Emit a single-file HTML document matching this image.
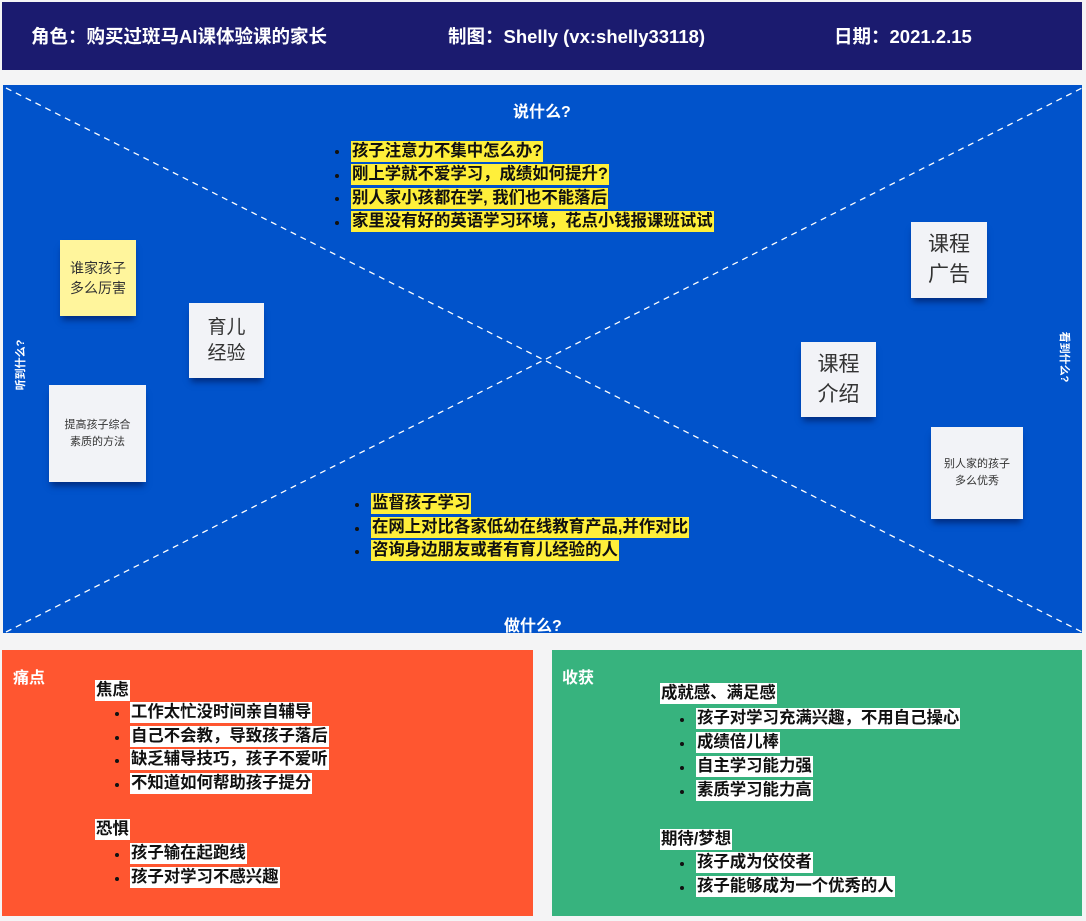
<!DOCTYPE html>
<html><head><meta charset="utf-8"><style>
body{margin:0;width:1086px;height:921px;background:#f4f4f5;position:relative;overflow:hidden;font-family:"Liberation Sans","Noto Sans CJK SC",sans-serif}
.a{position:absolute}
.hd{left:2px;top:2px;width:1080px;height:68px;background:#1b1b6f}
.hd span{position:absolute;top:21px;color:#fff;font-weight:bold;font-size:18.5px;white-space:nowrap}
.blue{left:3px;top:85px;width:1079px;height:548px;background:#0153cb}
.hl{position:absolute;font-size:16.4px;font-weight:bold;color:#111;background:#ffef3a;line-height:21px;padding:0 1px;white-space:nowrap}
.w{background:#fff}
.dot{position:absolute;width:4px;height:4px;border-radius:2px;background:#111}
.n{position:absolute;background:#f2f3f7;box-shadow:0 6px 6px -2px rgba(0,20,80,.6);display:flex;align-items:center;justify-content:center;text-align:center;color:#333}
.lbl{position:absolute;color:#fff;font-weight:bold;font-size:16px;white-space:nowrap}
</style></head><body>
<div class="a hd"><span style="left:29px">角色：购买过斑马AI课体验课的家长</span><span style="left:446px">制图：Shelly (vx:shelly33118)</span><span style="left:832px">日期：2021.2.15</span></div>
<div class="a blue"></div>
<svg class="a" style="left:0;top:0" width="1086" height="921"><line x1="6" y1="88" x2="1082" y2="632" stroke="#fff" stroke-width="1.3" stroke-dasharray="6,5"/><line x1="6" y1="632" x2="1082" y2="88" stroke="#fff" stroke-width="1.3" stroke-dasharray="6,5"/></svg>
<div class="lbl" style="left:513px;top:98px">说什么?</div>
<div class="lbl" style="left:504px;top:612px">做什么?</div>
<div class="lbl" style="left:-10px;top:357px;font-size:11px;transform:rotate(-90deg);width:60px;text-align:center">听到什么?</div>
<div class="lbl" style="left:1035px;top:349px;font-size:11px;transform:rotate(90deg);width:60px;text-align:center">看到什么?</div>
<div class="dot" style="left:335px;top:150px"></div><div class="hl" style="left:351px;top:141px">孩子注意力不集中怎么办?</div>
<div class="dot" style="left:335px;top:174px"></div><div class="hl" style="left:351px;top:164px">刚上学就不爱学习，成绩如何提升?</div>
<div class="dot" style="left:335px;top:197px"></div><div class="hl" style="left:351px;top:188px">别人家小孩都在学, 我们也不能落后</div>
<div class="dot" style="left:335px;top:221px"></div><div class="hl" style="left:351px;top:211px">家里没有好的英语学习环境，花点小钱报课班试试</div>
<div class="dot" style="left:355px;top:503px"></div><div class="hl" style="left:371px;top:493px">监督孩子学习</div>
<div class="dot" style="left:355px;top:527px"></div><div class="hl" style="left:371px;top:517px">在网上对比各家低幼在线教育产品,并作对比</div>
<div class="dot" style="left:355px;top:550px"></div><div class="hl" style="left:371px;top:540px">咨询身边朋友或者有育儿经验的人</div>
<div class="n" style="left:60px;top:240px;width:76px;height:76px;background:#fff59c;font-size:14px">谁家孩子<br>多么厉害</div>
<div class="n" style="left:189px;top:303px;width:75px;height:75px;font-size:19px;line-height:26px">育儿<br>经验</div>
<div class="n" style="left:49px;top:385px;width:97px;height:97px;font-size:11px;line-height:17px">提高孩子综合<br>素质的方法</div>
<div class="n" style="left:911px;top:222px;width:76px;height:76px;font-size:21px;line-height:30px">课程<br>广告</div>
<div class="n" style="left:801px;top:342px;width:75px;height:75px;font-size:21px;line-height:30px">课程<br>介绍</div>
<div class="n" style="left:931px;top:427px;width:92px;height:92px;font-size:11px;line-height:17px">别人家的孩子<br>多么优秀</div>
<div class="a" style="left:2px;top:650px;width:531px;height:266px;background:#ff5630"></div>
<div class="lbl" style="left:13px;top:664px">痛点</div>
<div class="hl w" style="left:95px;top:680px">焦虑</div>
<div class="dot" style="left:115px;top:712px"></div><div class="hl w" style="left:130px;top:702px">工作太忙没时间亲自辅导</div>
<div class="dot" style="left:115px;top:736px"></div><div class="hl w" style="left:130px;top:726px">自己不会教，导致孩子落后</div>
<div class="dot" style="left:115px;top:759px"></div><div class="hl w" style="left:130px;top:749px">缺乏辅导技巧，孩子不爱听</div>
<div class="dot" style="left:115px;top:783px"></div><div class="hl w" style="left:130px;top:773px">不知道如何帮助孩子提分</div>
<div class="hl w" style="left:95px;top:819px">恐惧</div>
<div class="dot" style="left:115px;top:853px"></div><div class="hl w" style="left:130px;top:843px">孩子输在起跑线</div>
<div class="dot" style="left:115px;top:877px"></div><div class="hl w" style="left:130px;top:867px">孩子对学习不感兴趣</div>
<div class="a" style="left:552px;top:650px;width:530px;height:266px;background:#37b37e"></div>
<div class="lbl" style="left:562px;top:664px">收获</div>
<div class="hl w" style="left:660px;top:683px">成就感、满足感</div>
<div class="dot" style="left:680px;top:718px"></div><div class="hl w" style="left:696px;top:708px">孩子对学习充满兴趣，不用自己操心</div>
<div class="dot" style="left:680px;top:742px"></div><div class="hl w" style="left:696px;top:732px">成绩倍儿棒</div>
<div class="dot" style="left:680px;top:766px"></div><div class="hl w" style="left:696px;top:756px">自主学习能力强</div>
<div class="dot" style="left:680px;top:790px"></div><div class="hl w" style="left:696px;top:780px">素质学习能力高</div>
<div class="hl w" style="left:660px;top:829px">期待/梦想</div>
<div class="dot" style="left:680px;top:862px"></div><div class="hl w" style="left:696px;top:852px">孩子成为佼佼者</div>
<div class="dot" style="left:680px;top:886px"></div><div class="hl w" style="left:696px;top:876px">孩子能够成为一个优秀的人</div>
</body></html>
